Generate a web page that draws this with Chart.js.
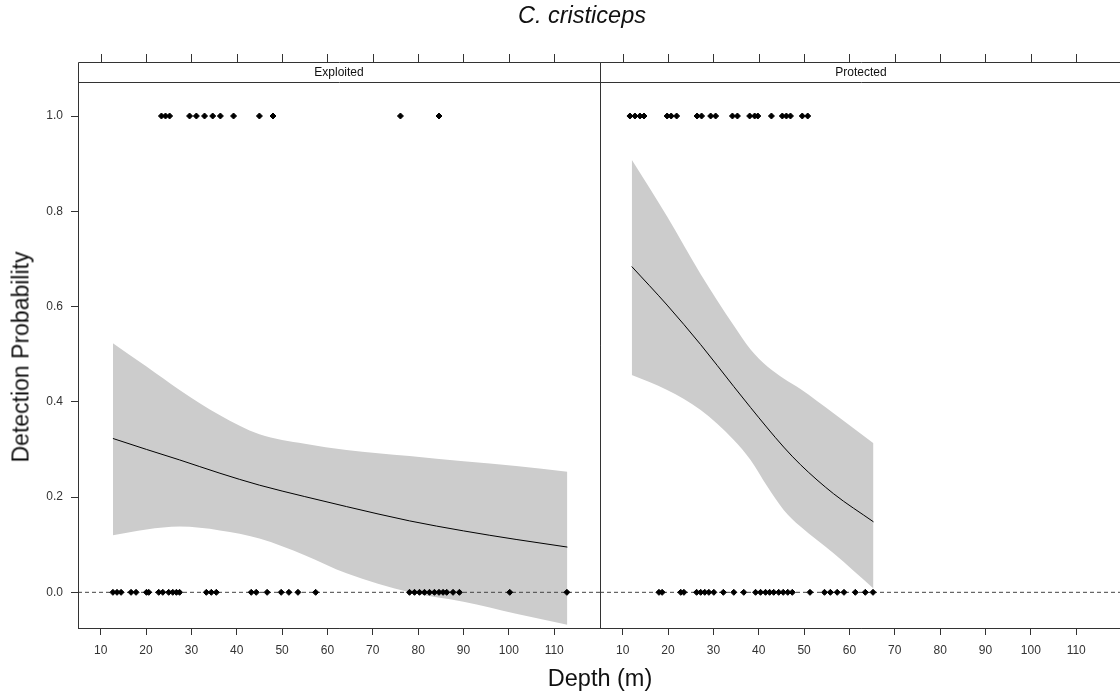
<!DOCTYPE html>
<html><head><meta charset="utf-8">
<script src="https://cdn.jsdelivr.net/npm/chart.js@4.4.1/dist/chart.umd.min.js"></script>
<style>
html,body{margin:0;padding:0;background:#fff;overflow:hidden}
#wrap{position:relative;width:1120px;height:694px;overflow:hidden;background:#fff;font-family:"Liberation Sans",Arial,sans-serif}
canvas{position:absolute;top:0}
#cA{left:0}
#cB{left:560px}
.lbl{position:absolute;line-height:1;white-space:nowrap;color:#111}
</style></head><body>
<div id="wrap">
<canvas id="cA" width="601" height="694"></canvas>
<canvas id="cB" width="563" height="694"></canvas>
<div class="lbl" style="left:582px;top:16px;transform:translate(-50%,-50%);font-size:23.5px;font-style:italic">C. cristiceps</div>
<div class="lbl" style="left:600px;top:679px;transform:translate(-50%,-50%);font-size:23.5px">Depth (m)</div>
<div class="lbl" style="left:21px;top:357px;transform:translate(-50%,-50%) rotate(-90deg);font-size:23px">Detection Probability</div>
</div>
<script>
// ---- data ----
const panelNames = ['Exploited', 'Protected'];
const xTicks = [10, 20, 30, 40, 50, 60, 70, 80, 90, 100, 110];
const yTicks = [0, 0.2, 0.4, 0.6, 0.8, 1.0];

const exploitedDetected = [23.4, 24.3, 25.2, 29.6, 31.1, 32.9, 34.7, 36.4, 39.3, 45.0, 48.0, 76.1, 84.6];
const exploitedAbsent = [12.7, 13.6, 14.5, 16.7, 17.8, 20.1, 20.6, 22.8, 23.7, 25.0, 25.9, 26.7, 27.4,
  33.3, 34.4, 35.5, 43.2, 44.3, 46.7, 49.8, 51.5, 53.5, 57.4, 78.1, 79.2, 80.3, 81.4, 82.5, 83.6,
  84.6, 85.5, 86.3, 87.7, 89.1, 100.2, 112.8];
const protectedDetected = [11.6, 12.7, 13.8, 14.7, 19.8, 20.7, 21.9, 26.4, 27.4, 29.4, 30.5, 34.2, 35.3,
  38.0, 39.1, 39.8, 42.8, 45.2, 46.1, 47.0, 49.6, 50.8];
const protectedAbsent = [18.0, 18.7, 22.8, 23.5, 26.3, 27.2, 28.1, 29.0, 30.1, 32.2, 34.5, 36.7, 39.3,
  40.4, 41.5, 42.4, 43.3, 44.4, 45.4, 46.4, 47.4, 51.3, 54.5, 55.8, 57.3, 58.8, 61.3, 63.5, 65.2];

const exploitedDepth = [12.7, 20.1, 27.4, 36.3, 45.0, 55.0, 64.2, 78.1, 90.0, 101.6, 112.9];
const exploitedFit   = [0.323, 0.300, 0.278, 0.250, 0.225, 0.201, 0.180, 0.150, 0.129, 0.111, 0.095];
const exploitedUpper = [0.523, 0.474, 0.425, 0.372, 0.332, 0.312, 0.299, 0.286, 0.275, 0.265, 0.253];
const exploitedLower = [0.120, 0.132, 0.138, 0.130, 0.113, 0.078, 0.040, 0.000, -0.020, -0.045, -0.068];

const protectedDepth = [12.0, 19.8, 27.2, 34.5, 38.2, 41.9, 45.5, 49.2, 56.5, 65.3];
const protectedFit   = [0.684, 0.603, 0.520, 0.432, 0.388, 0.345, 0.305, 0.268, 0.207, 0.148];
const protectedUpper = [0.908, 0.789, 0.668, 0.560, 0.510, 0.474, 0.449, 0.427, 0.376, 0.313];
const protectedLower = [0.456, 0.425, 0.383, 0.320, 0.278, 0.222, 0.173, 0.138, 0.082, 0.008];

// ---- axis limits ----
const X_MIN = 5.0, X_MAX = 120.1;
const Y_MIN = -0.0749, Y_MAX = 1.0714;

const FONT = '"Liberation Sans", Arial, sans-serif';
const AXIS_COLOR = '#333';

const pts = (xs, ys) => xs.map((x, i) => ({x: x, y: ys[i]}));

const framePlugin = {
  id: 'frame',
  afterDraw(chart, args, opts) {
    const {ctx, chartArea: a} = chart;
    const x = chart.scales.x;
    const r = v => Math.round(v) + 0.5;
    const stripTop = 62;
    ctx.save();
    ctx.strokeStyle = AXIS_COLOR;
    ctx.lineWidth = 1;
    ctx.beginPath();
    ctx.rect(r(a.left), r(stripTop), Math.round(a.right) - Math.round(a.left), Math.round(a.bottom) - Math.round(stripTop));
    ctx.moveTo(r(a.left), r(a.top));
    ctx.lineTo(r(a.right), r(a.top));
    xTicks.forEach(v => {
      const px = r(x.getPixelForValue(v));
      ctx.moveTo(px, stripTop - 8);
      ctx.lineTo(px, r(stripTop));
    });
    ctx.stroke();
    ctx.fillStyle = '#111';
    ctx.font = '12px ' + FONT;
    ctx.textAlign = 'center';
    ctx.textBaseline = 'middle';
    ctx.fillText(opts.label, (a.left + a.right) / 2, (stripTop + a.top) / 2 + 1);
    ctx.restore();
  }
};

function makeChart(canvasId, name, depth, fit, upper, lower, detected, absent, showY, padLeft) {
  const marks = detected.map(v => ({x: v, y: 1})).concat(absent.map(v => ({x: v, y: 0})));
  return new Chart(document.getElementById(canvasId), {
    type: 'line',
    data: {
      datasets: [
        {data: pts(depth, lower), borderColor: 'rgba(0,0,0,0)', borderWidth: 0, pointRadius: 0, fill: false,
         cubicInterpolationMode: 'monotone', order: 5},
        {data: pts(depth, upper), borderColor: 'rgba(0,0,0,0)', borderWidth: 0, pointRadius: 0, fill: '-1',
         backgroundColor: '#cccccc', cubicInterpolationMode: 'monotone', order: 4},
        {data: pts(depth, fit), borderColor: '#000', borderWidth: 1, pointRadius: 0, fill: false,
         cubicInterpolationMode: 'monotone', order: 3},
        {data: [{x: X_MIN, y: 0}, {x: X_MAX, y: 0}], borderColor: '#444', borderWidth: 1, borderDash: [4, 3],
         pointRadius: 0, fill: false, order: 2},
        {data: marks, showLine: false, pointStyle: 'rectRot', pointRadius: 3, pointBorderWidth: 1,
         pointBackgroundColor: '#000', pointBorderColor: '#000', order: 1}
      ]
    },
    options: {
      responsive: false,
      animation: false,
      events: [],
      layout: {autoPadding: false, padding: {left: padLeft, top: 82, right: 1, bottom: 0}},
      plugins: {legend: {display: false}, tooltip: {enabled: false}, frame: {label: name}},
      scales: {
        x: {
          type: 'linear', min: X_MIN, max: X_MAX,
          afterBuildTicks: s => { s.ticks = xTicks.map(v => ({value: v})); },
          afterFit: s => { s.height = 66; },
          grid: {drawOnChartArea: false, drawTicks: true, tickLength: 7, color: AXIS_COLOR},
          border: {display: true, color: AXIS_COLOR},
          ticks: {color: '#333', font: {family: FONT, size: 12}, padding: 8, maxRotation: 0, autoSkip: false,
                  callback: v => String(v)}
        },
        y: {
          type: 'linear', min: Y_MIN, max: Y_MAX, display: showY,
          afterBuildTicks: s => { s.ticks = yTicks.map(v => ({value: v})); },
          afterFit: s => { s.width = showY ? 78 : 0; },
          grid: {drawOnChartArea: false, drawTicks: true, tickLength: 7, color: AXIS_COLOR},
          border: {display: true, color: AXIS_COLOR},
          ticks: {color: '#333', font: {family: FONT, size: 12}, padding: 8, autoSkip: false,
                  callback: v => Number(v).toFixed(1)}
        }
      }
    },
    plugins: [framePlugin]
  });
}

makeChart('cA', panelNames[0], exploitedDepth, exploitedFit, exploitedUpper, exploitedLower,
          exploitedDetected, exploitedAbsent, true, 0);
makeChart('cB', panelNames[1], protectedDepth, protectedFit, protectedUpper, protectedLower,
          protectedDetected, protectedAbsent, false, 40);
</script>
</body></html>
